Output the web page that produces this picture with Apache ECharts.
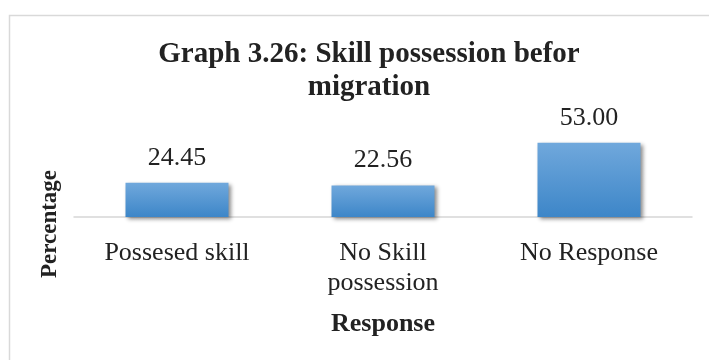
<!DOCTYPE html>
<html>
<head>
<meta charset="utf-8">
<script src="https://cdn.jsdelivr.net/npm/echarts@6/dist/echarts.min.js"></script>
<style>html,body{margin:0;padding:0;background:#fff}#c{width:709px;height:360px}</style>
</head>
<body>
<div id="c"></div>
<script>
const categories = ['Possesed skill', 'No Skill\npossession', 'No Response'];
const values = [24.45, 22.56, 53.00];
const titleText = 'Graph 3.26: Skill possession befor\nmigration';
const xName = 'Response';
const yName = 'Percentage';

const chart = echarts.init(document.getElementById('c'), null, {renderer: 'canvas'});
const serif = '"Liberation Serif", "Times New Roman", serif';
chart.setOption({
  animation: false,
  backgroundColor: '#fff',
  graphic: [{
    type: 'rect', left: 7, top: 13, shape: {width: 720, height: 360},
    style: {fill: 'none', stroke: '#d9d9d9', lineWidth: 1.5}, z: -1
  }],
  title: {
    text: titleText, left: 364, top: 33, textAlign: 'center',
    textStyle: {fontFamily: serif, fontWeight: 'bold', fontSize: 29, lineHeight: 33, color: '#222'}
  },
  grid: {left: 74, right: 17, top: 133, bottom: 143, containLabel: false},
  xAxis: {
    type: 'category', data: categories,
    name: xName, nameLocation: 'middle', nameGap: 94,
    nameTextStyle: {fontFamily: serif, fontWeight: 'bold', fontSize: 26, color: '#222'},
    axisLine: {lineStyle: {color: '#d6d6d6', width: 1.5}},
    axisTick: {show: false},
    axisLabel: {fontFamily: serif, fontSize: 26, color: '#222', lineHeight: 30, margin: 21, interval: 0}
  },
  yAxis: {
    type: 'value', min: 0, max: 60,
    name: yName, nameLocation: 'middle', nameGap: 12, nameRotate: 90,
    nameTextStyle: {fontFamily: serif, fontWeight: 'bold', fontSize: 23, color: '#222', padding: [0, 0, 0, -98]},
    axisLine: {show: false}, axisTick: {show: false}, axisLabel: {show: false},
    splitLine: {show: false}
  },
  series: [{
    type: 'bar', data: values, barWidth: '50%',
    itemStyle: {
      color: new echarts.graphic.LinearGradient(0, 0, 0, 1, [
        {offset: 0, color: '#70A8DC'}, {offset: 1, color: '#3D86C8'}
      ]),
      shadowColor: 'rgba(0,0,0,0.45)', shadowBlur: 4, shadowOffsetX: 2, shadowOffsetY: 2
    },
    label: {
      show: true, position: 'top', distance: 12,
      formatter: p => p.value.toFixed(2),
      fontFamily: serif, fontSize: 26, color: '#222'
    }
  }]
});
</script>
</body>
</html>
